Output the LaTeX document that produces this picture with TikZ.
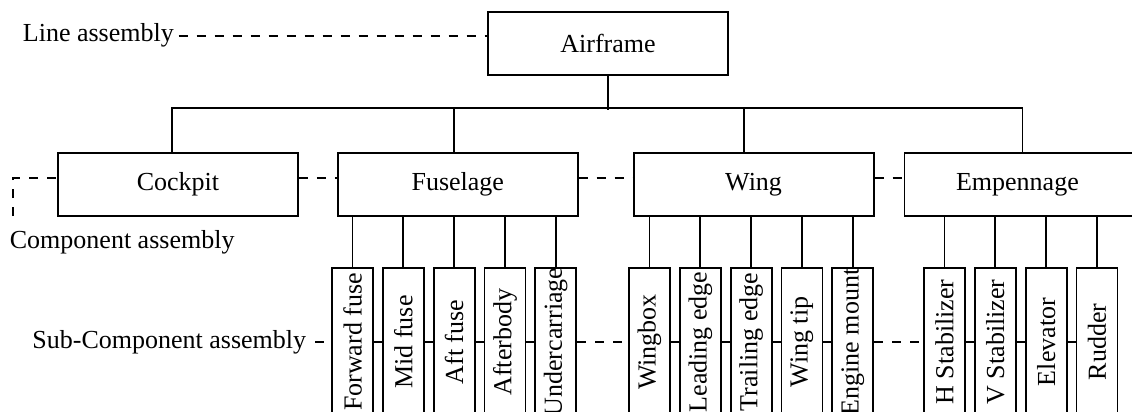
\documentclass[tikz,border=0pt]{standalone}
\usepackage{fontspec}
\setmainfont{Liberation Serif}
\usetikzlibrary{positioning}

\begin{document}
\begin{tikzpicture}[
  x = 1pt, y = -1pt,
  line width = 1.8pt,
  font = \fontsize{26}{31}\selectfont,
  node distance = 8pt,
  partbox/.style = {draw, fill=white, minimum width=240pt,
                    minimum height=63pt, inner sep=0pt},
  subbox/.style  = {draw, fill=white, minimum width=41pt,
                    minimum height=148pt, inner sep=0pt},
  lbl/.style     = {inner sep=0pt},
  link/.style    = {dash pattern=on 9pt off 9pt}
]
\clip (0,0) rectangle (1132,412);
% Line assembly
\node[partbox] (air) at (608,43.5) {Airframe};
% Component assembly
\node[partbox] (cp) at (178,184.5) {Cockpit};
\node[partbox, right=38pt of cp]   (fus)  {Fuselage};
\node[partbox, right=54pt of fus]  (wing) {Wing};
\node[partbox, right=29pt of wing] (emp)  {\hspace*{-14pt}Empennage};
% Sub-component assembly: fuselage
\node[subbox] (fwd) at (352.5,342) {\rotatebox{90}{Forward fuse}};
\node[subbox, right=of fwd] (mid) {\rotatebox{90}{Mid fuse}};
\node[subbox, right=of mid] (aft) {\rotatebox{90}{Aft fuse}};
\node[subbox, right=of aft] (afb) {\rotatebox{90}{Afterbody}};
\node[subbox, right=of afb] (ucg) {\rotatebox{90}{Undercarriage}};
% Sub-component assembly: wing
\node[subbox, right=51pt of ucg] (wbx) {\rotatebox{90}{Wingbox}};
\node[subbox, right=of wbx] (led) {\rotatebox{90}{Leading edge}};
\node[subbox, right=of led] (ted) {\rotatebox{90}{Trailing edge}};
\node[subbox, right=of ted] (wtp) {\rotatebox{90}{Wing tip}};
\node[subbox, right=of wtp] (emt) {\rotatebox{90}{Engine mount}};
% Sub-component assembly: empennage
\node[subbox, right=49pt of emt] (hst) {\rotatebox{90}{H Stabilizer}};
\node[subbox, right=of hst] (vst) {\rotatebox{90}{V Stabilizer}};
\node[subbox, right=of vst] (elv) {\rotatebox{90}{Elevator}};
\node[subbox, right=of elv] (rud) {\rotatebox{90}{Rudder}};
% Level labels
\node[lbl, anchor=base west] (lineasm) at (22,42)   {Line assembly};
\node[lbl, anchor=base west] (cmpasm)  at (9,248)   {Component assembly};
\node[lbl, anchor=base east] (subasm)  at (307,348) {Sub-Component assembly};
\coordinate (cmpend) at (13,216);
% Airframe -> components
\draw (air.south) -- ++(0,34);
\draw ([xshift=-6pt]cp.north) -- ++(0,-44) -| ([xshift=-2pt]emp.north);
\draw ([xshift=-3.5pt]fus.north) -- ++(0,-44);
\draw ([xshift=-10pt]wing.north) -- ++(0,-44);
% Components -> sub-components
\draw (fwd.north) -- (fwd.north |- fus.south);
\draw (mid.north) -- (mid.north |- fus.south);
\draw (aft.north) -- (aft.north |- fus.south);
\draw (afb.north) -- (afb.north |- fus.south);
\draw (ucg.north) -- (ucg.north |- fus.south);
\draw (wbx.north) -- (wbx.north |- wing.south);
\draw (led.north) -- (led.north |- wing.south);
\draw (ted.north) -- (ted.north |- wing.south);
\draw (wtp.north) -- (wtp.north |- wing.south);
\draw (emt.north) -- (emt.north |- wing.south);
\draw (hst.north) -- (hst.north |- emp.south);
\draw (vst.north) -- (vst.north |- emp.south);
\draw (elv.north) -- (elv.north |- emp.south);
\draw (rud.north) -- (rud.north |- emp.south);
% Level links (dashed)
\draw[link] ([xshift=4pt]lineasm.east) -- (lineasm.east -| air.west);
\draw[link] (cmpend) |- ([yshift=6.5pt]cp.west);
\draw[link] ([yshift=6.5pt]cp.east)   -- ([yshift=6.5pt]fus.west);
\draw[link] ([yshift=6.5pt]fus.east)  -- ([yshift=6.5pt]wing.west);
\draw[link] ([yshift=6.5pt]wing.east) -- ([yshift=6.5pt]emp.west);
\draw[link] ([xshift=8pt]subasm.east) -- (subasm.east -| fwd.west);
\draw[link] (fwd.east) -- (mid.west);
\draw[link] (mid.east) -- (aft.west);
\draw[link] (aft.east) -- (afb.west);
\draw[link] (afb.east) -- (ucg.west);
\draw[link] (ucg.east) -- (wbx.west);
\draw[link] (wbx.east) -- (led.west);
\draw[link] (led.east) -- (ted.west);
\draw[link] (ted.east) -- (wtp.west);
\draw[link] (wtp.east) -- (emt.west);
\draw[link] (emt.east) -- (hst.west);
\draw[link] (hst.east) -- (vst.west);
\draw[link] (vst.east) -- (elv.west);
\draw[link] (elv.east) -- (rud.west);
\end{tikzpicture}
\end{document}
